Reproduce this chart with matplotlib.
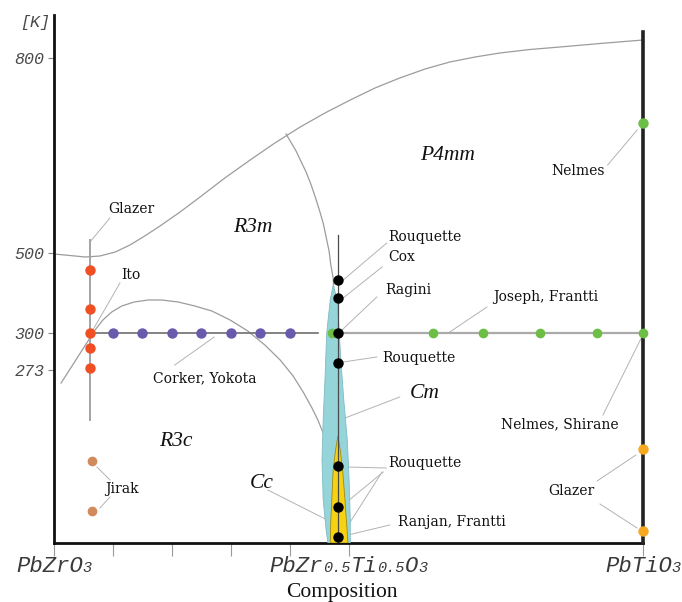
import matplotlib
matplotlib.use("Agg")
import matplotlib.pyplot as plt

# --- diagram data (x = Ti fraction, y = schematic diagram height) ---
temp_labels = ["800", "500", "300", "273"]
temp_pos = [485, 290, 210, 173]
comp_ticks = [0.0, 0.1, 0.2, 0.3, 0.4, 0.5, 1.0]
comp_labels = {
    0.0: [("PbZrO", False), ("3", True)],
    0.5: [("PbZr", False), ("0.5", True), ("Ti", False), ("0.5", True), ("O", False), ("3", True)],
    1.0: [("PbTiO", False), ("3", True)],
}

# phase boundaries
tc_x = [0.0, 0.027, 0.053, 0.078, 0.104, 0.129, 0.154, 0.180, 0.214, 0.248, 0.290,
        0.333, 0.375, 0.418, 0.460, 0.503, 0.545, 0.587, 0.630, 0.672, 0.715,
        0.757, 0.808, 0.859, 0.927, 1.0]
tc_y = [289, 287.5, 286, 287, 291, 298, 307, 317, 331, 346, 365,
        383, 400, 416, 430, 443, 455, 465, 474, 481, 486,
        490, 493.5, 496, 499.5, 503]
tet_x = [0.394, 0.402, 0.411, 0.419, 0.428, 0.436, 0.443, 0.450, 0.457, 0.462,
         0.467, 0.470, 0.474, 0.475]
tet_y = [409, 401, 392, 382, 371, 359, 347, 334, 320, 306, 292, 278, 265, 253]
rr_x = [0.012, 0.024, 0.036, 0.049, 0.061, 0.071, 0.083, 0.098, 0.115, 0.136,
        0.160, 0.183, 0.211, 0.239, 0.268, 0.299, 0.329, 0.358, 0.384, 0.406,
        0.424, 0.438, 0.448, 0.457]
rr_y = [160, 171, 182, 194, 205, 214, 223, 231, 237, 241,
        243, 243, 241, 237, 232, 223, 212, 198, 183, 167,
        150, 135, 123, 110]

# monoclinic regions
cm_x = [0.474, 0.469, 0.463, 0.460, 0.457, 0.455, 0.457, 0.462, 0.465,
        0.503, 0.503, 0.501, 0.498, 0.492, 0.487, 0.484, 0.481, 0.474]
cm_y = [258, 243, 210, 163, 123, 83, 43, 13, 0,
        0, 23, 63, 103, 143, 183, 213, 243, 258]
cc_x = [0.482, 0.478, 0.474, 0.472, 0.470, 0.469, 0.499, 0.497, 0.494, 0.490, 0.486, 0.482]
cc_y = [107, 93, 73, 48, 23, 0, 0, 18, 43, 73, 93, 107]

# measurements
ito_x, ito_y = 0.061, [273, 234, 210, 195, 175]
corker_x, corker_y = [0.10, 0.15, 0.20, 0.25, 0.30, 0.35, 0.40], 210
mpb_x, mpb_y = 0.482, [263, 245, 210, 180, 77, 36, 6]
joseph_x, joseph_y = [0.472, 0.643, 0.728, 0.825, 0.922, 1.0], 210
nelmes_x, nelmes_y = 1.0, 420
jirak_x, jirak_y = 0.065, [82, 32]
glazer_x, glazer_y = 1.0, [94, 12]

leader = dict(color="#b3b3b3", lw=0.7, zorder=2, clip_on=False)
boundary = dict(color="#9c9c9c", lw=0.9, zorder=2, solid_joinstyle="round")
note = dict(family="DejaVu Serif", fontsize=10, color="#111", zorder=6)
phase = dict(family="Liberation Serif", style="italic", fontsize=15.5, color="#111")

fig = plt.figure(figsize=(6.82, 6.02), dpi=100)
ax = fig.add_axes([54 / 682, 59 / 602, 589 / 682, 528 / 602])
ax.set_xlim(0, 1)
ax.set_ylim(0, 528)

for s in ("top", "right"):
    ax.spines[s].set_visible(False)
for s in ("left", "bottom"):
    ax.spines[s].set_linewidth(2)
    ax.spines[s].set_color("#111")

# boundaries
ax.plot(tc_x, tc_y, **boundary)
ax.plot(tet_x, tet_y, **boundary)
ax.plot(rr_x, rr_y, **boundary)

# monoclinic regions
ax.fill(cm_x, cm_y, facecolor="#95d4d8", edgecolor="#7fbcc1", lw=0.6, zorder=3)
ax.fill(cc_x, cc_y, facecolor="#f6d213", edgecolor="#a08a10", lw=0.6, zorder=3)

# PbTiO3 end member line
ax.plot([1, 1], [0, 511], color="#222", lw=2.6, zorder=4, clip_on=False)

# measurement guide lines
ax.plot([ito_x, ito_x], [123, 303], color="#a3a3a3", lw=1.4, zorder=4)
ax.plot([ito_x, 0.448], [210, 210], color="#6e6e6e", lw=1.2, zorder=4)
ax.plot([mpb_x, 1.0], [210, 210], color="#aaaaaa", lw=1.6, zorder=4)
ax.plot([mpb_x, mpb_x], [0, 308], color="#4a4a4a", lw=0.9, zorder=4)

pt = dict(ls="none", marker="o", mew=0, zorder=7, clip_on=False)
ax.plot([ito_x] * len(ito_y), ito_y, color="#f04e23", ms=7.5, **pt)
ax.plot(corker_x, [corker_y] * len(corker_x), color="#6a5aab", ms=7.5, **pt)
ax.plot(joseph_x, [joseph_y] * len(joseph_x), color="#6cbf44", ms=7, **pt)
ax.plot([mpb_x] * len(mpb_y), mpb_y, color="black", ms=7.5, **pt)
ax.plot([nelmes_x], [nelmes_y], color="#6cbf44", ms=7.5, **pt)
ax.plot([jirak_x] * 2, jirak_y, color="#d08a5c", ms=7, **pt)
ax.plot([glazer_x] * 2, glazer_y, color="#f6a821", ms=7.5, **pt)

# phase names
ax.text(0.669, 387, "P4mm", ha="center", va="center", **phase)
ax.text(0.338, 315, "R3m", ha="center", va="center", **phase)
ax.text(0.207, 102, "R3c", ha="center", va="center", **phase)
ax.text(0.630, 150, "Cm", ha="center", va="center", **phase)
ax.text(0.353, 59, "Cc", ha="center", va="center", **phase)
ax.plot([0.363, 0.464], [53, 23], **leader)
ax.plot([0.472, 0.587], [120, 146], **leader)

# references
ax.text(0.092, 334, "Glazer", ha="left", va="center", **note)
ax.plot([0.061, 0.095], [301, 325], **leader)
ax.text(0.114, 268, "Ito", ha="left", va="center", **note)
ax.plot([0.066, 0.112], [213, 260], **leader)
ax.text(0.256, 165, "Corker, Yokota", ha="center", va="center", **note)
ax.plot([0.272, 0.205], [206, 178], **leader)
ax.text(0.115, 54, "Jirak", ha="center", va="center", **note)
ax.plot([0.073, 0.095], [76, 63], **leader)
ax.plot([0.078, 0.095], [35, 46], **leader)

ax.text(0.567, 306, "Rouquette", ha="left", va="center", **note)
ax.plot([0.491, 0.565], [263, 300], **leader)
ax.text(0.567, 286, "Cox", ha="left", va="center", **note)
ax.plot([0.491, 0.557], [245, 276], **leader)
ax.text(0.562, 253, "Ragini", ha="left", va="center", **note)
ax.plot([0.489, 0.548], [213, 246], **leader)
ax.text(0.557, 185, "Rouquette", ha="left", va="center", **note)
ax.plot([0.491, 0.548], [181, 186], **leader)
ax.text(0.567, 80, "Rouquette", ha="left", va="center", **note)
ax.plot([0.497, 0.564], [76, 75], **leader)
ax.plot([0.491, 0.559], [38, 71], **leader)
ax.plot([0.491, 0.557], [10, 71], **leader)
ax.text(0.584, 21, "Ranjan, Frantti", ha="left", va="center", **note)
ax.plot([0.499, 0.570], [8, 18], **leader)

ax.text(0.745, 246, "Joseph, Frantti", ha="left", va="center", **note)
ax.plot([0.672, 0.735], [211, 236], **leader)
ax.text(0.935, 372, "Nelmes", ha="right", va="center", **note)
ax.plot([0.940, 0.990], [378, 413], **leader)
ax.text(0.959, 119, "Nelmes, Shirane", ha="right", va="center", **note)
ax.plot([0.932, 0.998], [128, 206], **leader)
ax.text(0.878, 52, "Glazer", ha="center", va="center", **note)
ax.plot([0.922, 0.988], [62, 88], **leader)
ax.plot([0.927, 0.990], [39, 15], **leader)

# temperature axis
ax.set_yticks(temp_pos)
ax.set_yticklabels(temp_labels, family="Liberation Mono", style="italic",
                   fontsize=12, color="#4a4a4a")
ax.tick_params(axis="y", direction="out", length=4, width=0.8, color="#888", pad=3)
ax.text(-0.006, 520, "[K]", ha="right", va="center", family="Liberation Mono",
        style="italic", fontsize=12, color="#4a4a4a")

# composition axis
ax.set_xticks(comp_ticks)
ax.set_xticklabels([])
ax.tick_params(axis="x", direction="out", length=9, width=0.8, color="#999")


def mono_label(x, pieces, big=16, small=11):
    sizes = [small if sub else big for _, sub in pieces]
    widths = [0.6 * len(s) * fs for (s, _), fs in zip(pieces, sizes)]
    off = -sum(widths) / 2
    for (s, _), fs, w in zip(pieces, sizes, widths):
        ax.annotate(s, xy=(x, 0), xycoords=("data", "axes fraction"),
                    xytext=(off, -21), textcoords="offset points",
                    ha="left", va="baseline", fontsize=fs,
                    family="Liberation Mono", style="italic", color="#3a3a3a",
                    annotation_clip=False)
        off += w


for x, pieces in comp_labels.items():
    mono_label(x, pieces)

fig.text(342 / 682, 1 - 597 / 602, "Composition", ha="center", va="baseline",
         family="Liberation Serif", fontsize=15.5, color="#111")

fig.savefig("out.png", dpi=100)
